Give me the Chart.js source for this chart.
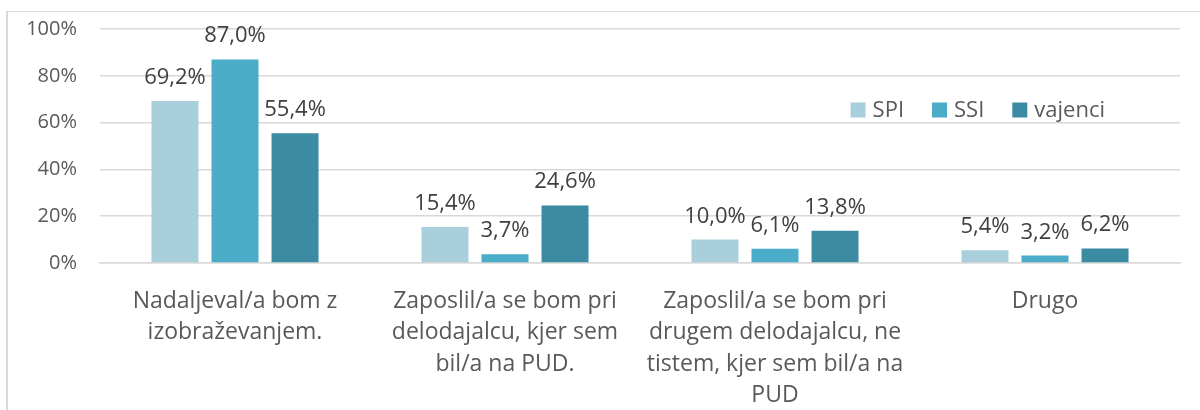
<!DOCTYPE html>
<html>
<head>
<meta charset="utf-8">
<script src="https://cdn.jsdelivr.net/npm/chart.js@4.4.0/dist/chart.umd.min.js"></script>
<style>
  html, body { margin: 0; padding: 0; background: #fff; }
  #wrap { position: relative; width: 1200px; height: 410px; overflow: hidden; }
  #frame { position: absolute; left: 6px; top: 11px; width: 1300px; height: 500px;
           border-left: 2px solid #d9d9d9; border-top: 1px solid #d9d9d9; }
  canvas { position: absolute; left: 0; top: 0; }
</style>
</head>
<body>
<div id="wrap">
  <div id="frame"></div>
  <canvas id="chart" width="1200" height="410"></canvas>
</div>
<script>
// podatki
const categories = [
  ['Nadaljeval/a bom z', 'izobraževanjem.'],
  ['Zaposlil/a se bom pri', 'delodajalcu, kjer sem', 'bil/a na PUD.'],
  ['Zaposlil/a se bom pri', 'drugem delodajalcu, ne', 'tistem, kjer sem bil/a na', 'PUD'],
  ['Drugo']
];
const spi = [69.2, 15.4, 10.0, 5.4];
const ssi = [87.0, 3.7, 6.1, 3.2];
const vajenci = [55.4, 24.6, 13.8, 6.2];
const seriesNames = ['SPI', 'SSI', 'vajenci'];
const seriesColors = ['#A9CEDC', '#4AACC6', '#3B8BA3'];
const yTicks = [0, 20, 40, 60, 80, 100];

const FONT = '"Open Sans", sans-serif';

// oznake nad stolpci
const barLabels = {
  id: 'barLabels',
  afterDatasetsDraw(chart) {
    const ctx = chart.ctx;
    ctx.save();
    ctx.font = '22px ' + FONT;
    ctx.fillStyle = '#404040';
    ctx.textAlign = 'center';
    ctx.textBaseline = 'alphabetic';
    chart.data.datasets.forEach((ds, i) => {
      chart.getDatasetMeta(i).data.forEach((bar, j) => {
        const txt = ds.data[j].toFixed(1).replace('.', ',') + '%';
        ctx.fillText(txt, bar.x, bar.y - 17);
      });
    });
    ctx.restore();
  }
};

// legenda znotraj grafa
const innerLegend = {
  id: 'innerLegend',
  afterDraw(chart) {
    const ctx = chart.ctx;
    const area = chart.chartArea;
    ctx.save();
    ctx.font = '22px ' + FONT;
    ctx.textBaseline = 'middle';
    const box = 15, gap = 7, spacing = 28;
    let total = 0;
    const widths = chart.data.datasets.map(ds => ctx.measureText(ds.label).width);
    widths.forEach(w => total += box + gap + w);
    total += spacing * (widths.length - 1);
    let x = area.right - 75 - total;
    const y = area.top + 81;
    chart.data.datasets.forEach((ds, i) => {
      ctx.fillStyle = ds.backgroundColor;
      ctx.fillRect(x, y - box / 2, box, box);
      ctx.fillStyle = '#595959';
      ctx.fillText(ds.label, x + box + gap, y + 1);
      x += box + gap + widths[i] + spacing;
    });
    ctx.restore();
  }
};

new Chart(document.getElementById('chart'), {
  type: 'bar',
  data: {
    labels: categories,
    datasets: [spi, ssi, vajenci].map((d, i) => ({
      label: seriesNames[i],
      data: d,
      backgroundColor: seriesColors[i],
      categoryPercentage: 0.667,
      barPercentage: 0.783
    }))
  },
  options: {
    responsive: false,
    animation: false,
    layout: { padding: { top: 29, right: 20, left: 0, bottom: 0 } },
    plugins: { legend: { display: false }, tooltip: { enabled: false } },
    scales: {
      y: {
        min: 0,
        max: 100,
        afterFit(s) { s.width = 100; s.paddingTop = 0; s.paddingBottom = 0; },
        afterBuildTicks(s) { s.ticks = yTicks.map(v => ({ value: v })); },
        border: { display: false },
        grid: { color: '#d9d9d9', lineWidth: 1.5, drawTicks: false },
        ticks: {
          padding: 23,
          color: '#595959',
          font: { family: FONT, size: 20 },
          callback: v => v + '%'
        }
      },
      x: {
        afterFit(s) { s.height = 147; },
        border: { display: true, color: '#d9d9d9', width: 1.5 },
        grid: { display: false },
        ticks: {
          padding: 15,
          color: '#595959',
          maxRotation: 0,
          autoSkip: false,
          font: { family: FONT, size: 23, lineHeight: 1.36 }
        }
      }
    }
  },
  plugins: [barLabels, innerLegend]
});
</script>
</body>
</html>
